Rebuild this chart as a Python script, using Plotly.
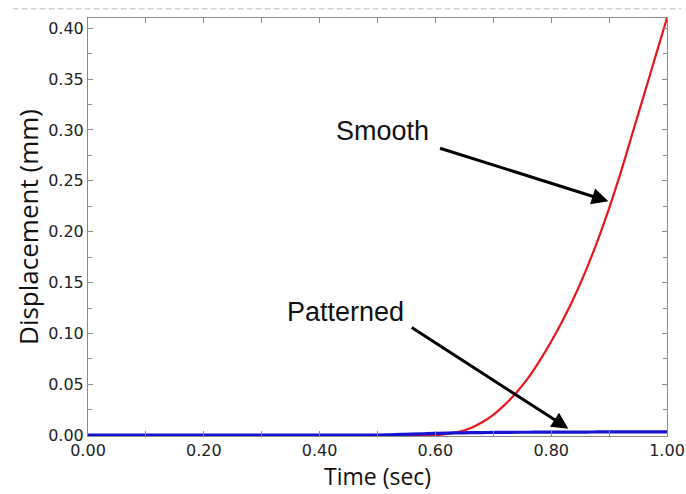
import plotly.graph_objects as go

# Time samples (s)
time_s = [0.00, 0.10, 0.20, 0.30, 0.40, 0.45, 0.50, 0.52, 0.54, 0.56, 0.58, 0.60,
          0.62, 0.64, 0.66, 0.68, 0.70, 0.72, 0.74, 0.76, 0.78, 0.80,
          0.82, 0.84, 0.86, 0.88, 0.90, 0.92, 0.94, 0.96, 0.98, 1.00]

# Displacement (mm) for the smooth surface
smooth_mm = [0.0, 0.0, 0.0, 0.0, 0.0, 0.0, 0.0, 0.0, 0.0, 0.0, 0.0, 0.0,
             0.0012, 0.0032, 0.0068, 0.0125, 0.020, 0.030, 0.042, 0.056, 0.073, 0.092,
             0.113, 0.136, 0.162, 0.191, 0.223, 0.258, 0.296, 0.334, 0.372, 0.410]

# Displacement (mm) for the patterned surface
patterned_mm = [0.0, 0.0, 0.0, 0.0, 0.0, 0.0001, 0.0002, 0.0004, 0.0007, 0.0010, 0.0014, 0.0018,
                0.0021, 0.0023, 0.0025, 0.0026, 0.0027, 0.0028, 0.0029, 0.0029, 0.0030, 0.0030,
                0.0031, 0.0031, 0.0031, 0.0032, 0.0032, 0.0032, 0.0032, 0.0033, 0.0033, 0.0033]

x_ticks = [0.0, 0.2, 0.4, 0.6, 0.8, 1.0]
x_tick_text = ["0.00", "0.20", "0.40", "0.60", "0.80", "1.00"]
y_ticks = [0.0, 0.05, 0.10, 0.15, 0.20, 0.25, 0.30, 0.35, 0.40]
y_tick_text = ["0.00", "0.05", "0.10", "0.15", "0.20", "0.25", "0.30", "0.35", "0.40"]

fig = go.Figure()
fig.add_trace(go.Scatter(x=time_s, y=smooth_mm, mode="lines", name="Smooth",
                         line=dict(color="#e8161c", width=2.2, shape="spline", smoothing=1.0)))
fig.add_trace(go.Scatter(x=time_s, y=patterned_mm, mode="lines", name="Patterned",
                         line=dict(color="#1414d2", width=3.2, shape="spline", smoothing=1.0)))

tick_font = dict(family="DejaVu Sans", size=16, color="#222222")
frame = "#8a8a8a"

fig.update_xaxes(range=[0, 1.0], tickvals=x_ticks, ticktext=x_tick_text, automargin=False,
                 ticks="inside", ticklen=5, tickcolor=frame, mirror="allticks",
                 showline=True, linecolor=frame, linewidth=1, showgrid=False, zeroline=False,
                 minor=dict(dtick=0.1, tick0=0, ticks="inside", ticklen=5, tickcolor=frame),
                 tickfont=tick_font)
fig.update_yaxes(range=[-0.0008, 0.41], tickvals=y_ticks, ticktext=y_tick_text, automargin=False,
                 ticks="inside", ticklen=5, tickcolor=frame, mirror="allticks",
                 showline=True, linecolor=frame, linewidth=1, showgrid=False, zeroline=False,
                 minor=dict(dtick=0.025, tick0=0, ticks="inside", ticklen=4, tickcolor=frame),
                 tickfont=tick_font,
                 title=dict(text="Displacement (mm)", font=dict(family="Open Sans", size=26, color="#111111"),
                            standoff=2))

# x-axis title placed just under the tick labels
fig.add_annotation(x=0.5, y=-0.095, xref="paper", yref="paper", text="Time (sec)",
                   showarrow=False, yanchor="middle", borderpad=0,
                   font=dict(family="Open Sans", size=23, color="#111111"))

label_font = dict(family="Liberation Sans", size=27, color="#111111")
fig.add_annotation(x=0.508, y=0.2985, xref="x", yref="y", text="Smooth",
                   showarrow=False, font=label_font)
fig.add_annotation(x=0.444, y=0.1212, xref="x", yref="y", text="Patterned",
                   showarrow=False, font=label_font)
# Arrows pointing at each curve
fig.add_annotation(x=0.8987, y=0.2299, ax=0.6054, ay=0.2825, xref="x", yref="y",
                   axref="x", ayref="y", text="", showarrow=True,
                   arrowhead=2, arrowsize=1.1, arrowwidth=3, arrowcolor="#000000")
fig.add_annotation(x=0.8297, y=0.0064, ax=0.5565, ay=0.1067, xref="x", yref="y",
                   axref="x", ayref="y", text="", showarrow=True,
                   arrowhead=2, arrowsize=1.1, arrowwidth=3, arrowcolor="#000000")

# Dashed rule across the top of the page
fig.add_shape(type="line", xref="paper", yref="paper", x0=-0.13, x1=1.025,
              y0=1.022, y1=1.022, line=dict(color="#bdbdbd", width=1, dash="6px,3px"))

fig.update_layout(width=686, height=494, showlegend=False,
                  margin=dict(l=88, r=19, t=18, b=58),
                  plot_bgcolor="white", paper_bgcolor="white")

fig.write_html("out.html")
